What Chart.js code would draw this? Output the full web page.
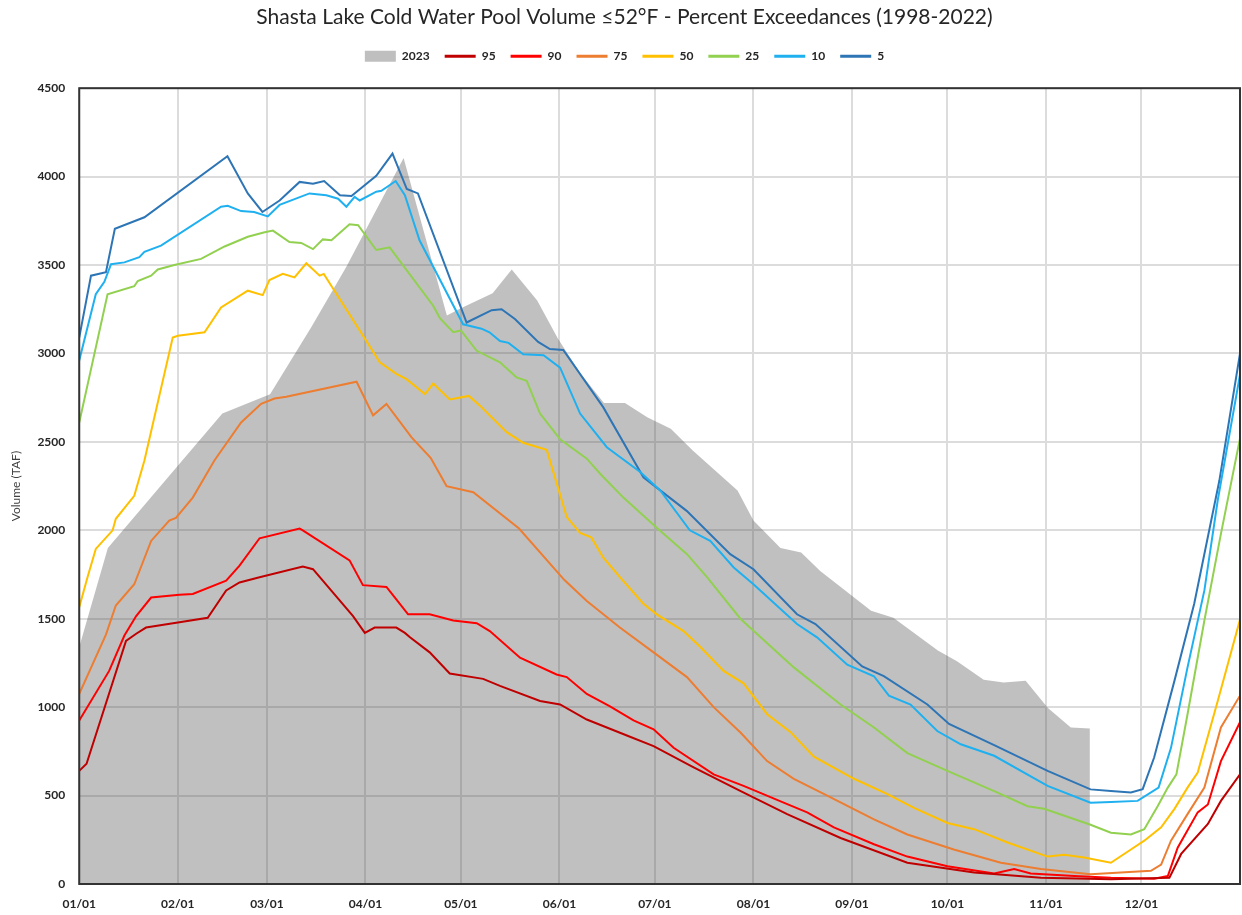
<!DOCTYPE html>
<html>
<head>
<meta charset="utf-8">
<script src="https://cdn.jsdelivr.net/npm/chart.js@4/dist/chart.umd.min.js"></script>
<style>
  body { margin: 0; background: #fff; }
</style>
</head>
<body>
<canvas id="cwpChart" width="1242" height="915"></canvas>
<script>
// x = day of year (0 = Jan 1), y = cold water pool volume (TAF)
const monthDays = [0, 31, 59, 90, 120, 151, 181, 212, 243, 273, 304, 334];
const monthLabels = ['01/01', '02/01', '03/01', '04/01', '05/01', '06/01', '07/01', '08/01', '09/01', '10/01', '11/01', '12/01'];

const days2023 = [0, 9, 31, 45, 60, 73, 84, 102, 115.6, 120, 130, 136, 144, 150.5, 157.5, 165, 171.6, 178.6, 186, 193, 207, 212, 220.5, 227, 233, 249, 256, 270, 276, 284.4, 290.7, 297.6, 304.6, 311.8, 317.8];
const vals2023 = [1340, 1900, 2365, 2660, 2770, 3150, 3490, 4105, 3215, 3255, 3340, 3475, 3300, 3085, 2890, 2720, 2720, 2640, 2575, 2450, 2225, 2055, 1900, 1875, 1770, 1545, 1505, 1320, 1260, 1155, 1140, 1150, 995, 885, 880];

const days95 = [0, 2.3, 14.7, 17.9, 21, 31.5, 40.4, 46.2, 50.4, 56.7, 70.3, 73.5, 86.1, 89.8, 92.9, 99.7, 102.4, 104, 110.2, 116.5, 127, 132.3, 144.9, 151.2, 159.6, 172.2, 180.6, 193.2, 208, 222.6, 239.4, 260.4, 281.4, 302.4, 324.4, 342.8, 346.5, 354.9, 359, 365];
const vals95 = [640, 680, 1375, 1415, 1450, 1480, 1505, 1660, 1705, 1735, 1795, 1780, 1515, 1420, 1450, 1450, 1420, 1395, 1310, 1190, 1160, 1120, 1035, 1015, 930, 840, 780, 660, 525, 395, 260, 120, 65, 35, 27, 35, 170, 340, 470, 620];

const days90 = [0, 9.4, 14.2, 17.9, 22.6, 31.5, 35.7, 46.2, 50.4, 56.7, 69.3, 70.3, 85, 89.2, 96.6, 99.7, 103.4, 110.2, 117.6, 125, 129.1, 138.6, 150.1, 153.3, 159.6, 166.9, 174.3, 180.6, 186.9, 199.5, 208.9, 221.5, 228.9, 237.3, 249.9, 260.4, 273, 287.7, 294, 299.2, 312.9, 324.4, 338, 342.3, 345.4, 351.7, 354.9, 359, 365];
const vals90 = [925, 1205, 1405, 1515, 1620, 1635, 1640, 1715, 1800, 1955, 2010, 2000, 1830, 1690, 1680, 1610, 1525, 1525, 1490, 1475, 1430, 1280, 1185, 1170, 1075, 1005, 925, 875, 770, 620, 555, 460, 405, 320, 225, 155, 100, 60, 85, 60, 45, 35, 30, 45, 205, 405, 450, 695, 915];

const days75 = [0, 8.4, 11.5, 17.3, 22.6, 28.3, 30.4, 35.7, 42.5, 50.9, 57.2, 61.4, 65.1, 87.2, 92.4, 96.6, 104.5, 110.5, 115.5, 123.9, 138.3, 152.5, 159.6, 170, 180.6, 191.1, 199.5, 208, 216.3, 224.7, 235.2, 249.9, 260.4, 275, 289.8, 302.4, 318, 337, 340.2, 343.3, 348.5, 353.8, 359, 365];
const vals75 = [1075, 1410, 1575, 1695, 1940, 2055, 2070, 2185, 2395, 2610, 2715, 2745, 2755, 2840, 2650, 2715, 2525, 2410, 2250, 2215, 2010, 1720, 1600, 1450, 1310, 1170, 1000, 855, 695, 595, 500, 365, 280, 195, 120, 85, 55, 75, 110, 245, 395, 545, 885, 1065];

const days50 = [0, 2.6, 5.2, 10.5, 11.5, 17.3, 20.5, 29.4, 31, 39.4, 44.6, 53, 57.7, 59.8, 64, 67.7, 71.4, 75.6, 76.9, 88.2, 94.5, 99.7, 102.9, 108.7, 111.3, 116.5, 122.5, 126, 134.4, 139.6, 147, 153.3, 157.5, 161, 164.8, 170, 177.4, 181.6, 190, 195.3, 202.6, 208.9, 216.3, 223.6, 231, 243.6, 254, 262.5, 273, 281.4, 291.9, 304.5, 309.7, 316, 324.4, 330.7, 334.9, 340.2, 344.4, 348.5, 351.7, 358, 365];
const vals50 = [1565, 1735, 1895, 2000, 2065, 2195, 2395, 3090, 3100, 3120, 3260, 3355, 3330, 3415, 3450, 3430, 3510, 3440, 3450, 3130, 2950, 2885, 2855, 2770, 2830, 2740, 2760, 2705, 2555, 2495, 2455, 2075, 1985, 1960, 1845, 1735, 1585, 1525, 1430, 1340, 1205, 1135, 960, 860, 720, 595, 510, 430, 345, 310, 235, 155, 165, 150, 120, 195, 245, 320, 425, 545, 630, 1035, 1495];

const days25 = [0, 8.9, 17.3, 18.4, 22.6, 24.7, 29.9, 38.3, 45.7, 53, 58.3, 60.9, 66.1, 69.8, 73.5, 76.6, 79.3, 85, 87.7, 93.4, 97.6, 111.3, 113.4, 117.6, 120, 125, 132.3, 137.5, 140.7, 144.9, 151.2, 159.6, 163.8, 171.1, 181.6, 191.1, 197.4, 207.9, 224.7, 239.4, 249.9, 260.4, 273, 287.7, 298.2, 303.4, 318, 324.4, 330.7, 334.9, 339.1, 342.3, 345, 348.5, 353.8, 359, 365];
const vals25 = [2610, 3335, 3380, 3410, 3440, 3475, 3500, 3535, 3605, 3660, 3685, 3695, 3630, 3625, 3590, 3645, 3640, 3730, 3725, 3585, 3600, 3270, 3200, 3120, 3130, 3015, 2950, 2865, 2845, 2660, 2515, 2405, 2320, 2185, 2015, 1865, 1735, 1500, 1225, 1015, 885, 740, 640, 525, 440, 425, 335, 290, 280, 310, 440, 545, 620, 960, 1490, 1980, 2520];

const days10 = [0, 5.2, 7.9, 10, 14.2, 18.9, 20.5, 25.7, 44.6, 46.7, 50.9, 55, 59.3, 63, 72.4, 77.7, 81.4, 84, 86.6, 88.2, 93.4, 95, 99.5, 102.4, 107, 120.7, 126.5, 129, 132.3, 135, 139.6, 146, 151.2, 157.5, 165.9, 176.4, 182.7, 192, 198.4, 205.8, 212, 225.7, 232, 241.5, 249.9, 254.6, 261.4, 269.8, 277.2, 287.7, 304.5, 318, 324.4, 332.8, 339.4, 343.3, 348.5, 353.8, 358, 365];
const vals10 = [2960, 3335, 3405, 3505, 3515, 3545, 3575, 3610, 3830, 3835, 3805, 3800, 3775, 3840, 3905, 3895, 3875, 3830, 3885, 3865, 3915, 3920, 3975, 3895, 3640, 3165, 3140, 3120, 3070, 3060, 2995, 2990, 2920, 2660, 2470, 2330, 2225, 2000, 1940, 1790, 1695, 1470, 1395, 1240, 1175, 1065, 1015, 865, 790, 725, 555, 460, 464, 470, 545, 770, 1225, 1660, 2170, 2880];

const days5 = [0, 3.7, 8.4, 11.2, 20.5, 46.6, 53, 57.6, 63, 69.3, 73.5, 77, 82, 85.6, 93.4, 98.5, 103, 106.5, 121.8, 129.7, 132.8, 137, 144.3, 148, 152.2, 164.8, 177.4, 191, 204.7, 212, 225.7, 231.5, 246.2, 253, 266.7, 273.5, 287.7, 304.5, 318, 324.4, 330.7, 334.4, 338, 344.4, 350.6, 358.5, 365];
const vals5 = [3090, 3440, 3460, 3705, 3770, 4115, 3905, 3800, 3865, 3970, 3960, 3975, 3895, 3890, 4005, 4130, 3930, 3905, 3175, 3245, 3250, 3195, 3065, 3025, 3020, 2695, 2300, 2110, 1865, 1780, 1525, 1470, 1230, 1175, 1015, 905, 785, 640, 535, 526, 517, 536, 715, 1150, 1585, 2280, 3000];

const seriesLabels = ['2023', '95', '90', '75', '50', '25', '10', '5'];
const seriesColors = ['#bfbfbf', '#c00000', '#ff0000', '#ed7d31', '#ffc000', '#92d050', '#1fb0f0', '#2e75b6'];
const seriesDays = [days2023, days95, days90, days75, days50, days25, days10, days5];
const seriesVals = [vals2023, vals95, vals90, vals75, vals50, vals25, vals10, vals5];

function toPoints(days, vals) {
    return days.map((d, i) => ({ x: d, y: vals[i] }));
}

const datasets = seriesLabels.map((label, i) => {
    if (i === 0) {
        return {
            label: label,
            data: toPoints(seriesDays[i], seriesVals[i]),
            // semi-transparent so the grid shows through darker, like the original
            backgroundColor: 'rgba(80,80,80,0.36)',
            borderWidth: 0,
            pointRadius: 0,
            fill: 'origin',
            order: 2
        };
    }
    return {
        label: label,
        data: toPoints(seriesDays[i], seriesVals[i]),
        borderColor: seriesColors[i],
        backgroundColor: seriesColors[i],
        borderWidth: 2,
        pointRadius: 0,
        fill: false,
        tension: 0,
        order: 1
    };
});

// box around the plot area
const framePlugin = {
    id: 'frame',
    afterDraw(chart) {
        const { ctx, chartArea: a } = chart;
        ctx.save();
        ctx.strokeStyle = '#333';
        ctx.lineWidth = 2;
        ctx.strokeRect(a.left, a.top, a.right - a.left, a.bottom - a.top);
        ctx.restore();
    }
};

// extra room between legend and plot
const legendGap = {
    id: 'legendGap',
    beforeInit(chart) {
        const origFit = chart.legend.fit;
        chart.legend.fit = function () {
            origFit.bind(chart.legend)();
            this.height += 16;
        };
    }
};

const tickFont = { family: 'Lato', size: 12, weight: 'bold', lineHeight: 1 };

new Chart(document.getElementById('cwpChart'), {
    type: 'line',
    data: { datasets: datasets },
    plugins: [framePlugin, legendGap],
    options: {
        responsive: false,
        animation: false,
        layout: { padding: { left: 9, right: 2, top: 0, bottom: -2 } },
        plugins: {
            title: {
                display: true,
                text: 'Shasta Lake Cold Water Pool Volume \u226452\u00b0F - Percent Exceedances (1998-2022)',
                font: { family: 'Lato', size: 21, weight: 'normal' },
                color: '#262626',
                padding: { top: 5, bottom: 5 }
            },
            legend: {
                labels: {
                    usePointStyle: true,
                    pointStyleWidth: 31,
                    boxHeight: 11,
                    padding: 15,
                    font: tickFont,
                    color: '#262626',
                    generateLabels: (chart) => chart.data.datasets.map((ds, i) => ({
                        text: ds.label,
                        fillStyle: seriesColors[i],
                        strokeStyle: seriesColors[i],
                        lineWidth: i === 0 ? 0 : 3,
                        pointStyle: i === 0 ? 'rect' : 'line',
                        hidden: false,
                        datasetIndex: i,
                        fontColor: '#262626'
                    }))
                }
            },
            tooltip: { enabled: false }
        },
        scales: {
            x: {
                type: 'linear',
                min: 0,
                max: 365,
                afterBuildTicks: (axis) => {
                    axis.ticks = monthDays.map(v => ({ value: v }));
                },
                afterFit: (axis) => {
                    axis.height -= 7;
                },
                ticks: {
                    autoSkip: false,
                    maxRotation: 0,
                    padding: 14,
                    font: tickFont,
                    color: '#262626',
                    callback: (v) => monthLabels[monthDays.indexOf(v)]
                },
                grid: { color: '#dcdcdc', lineWidth: 2, drawTicks: false },
                border: { display: false }
            },
            y: {
                min: 0,
                max: 4500,
                ticks: {
                    stepSize: 500,
                    padding: 14,
                    font: tickFont,
                    color: '#262626',
                    callback: (v) => String(v)
                },
                title: {
                    display: true,
                    text: 'Volume (TAF)',
                    font: { family: 'Lato', size: 12 },
                    color: '#404040',
                    padding: { top: 0, bottom: 0 }
                },
                grid: { color: '#dcdcdc', lineWidth: 2, drawTicks: false },
                border: { display: false }
            }
        }
    }
});
</script>
</body>
</html>
